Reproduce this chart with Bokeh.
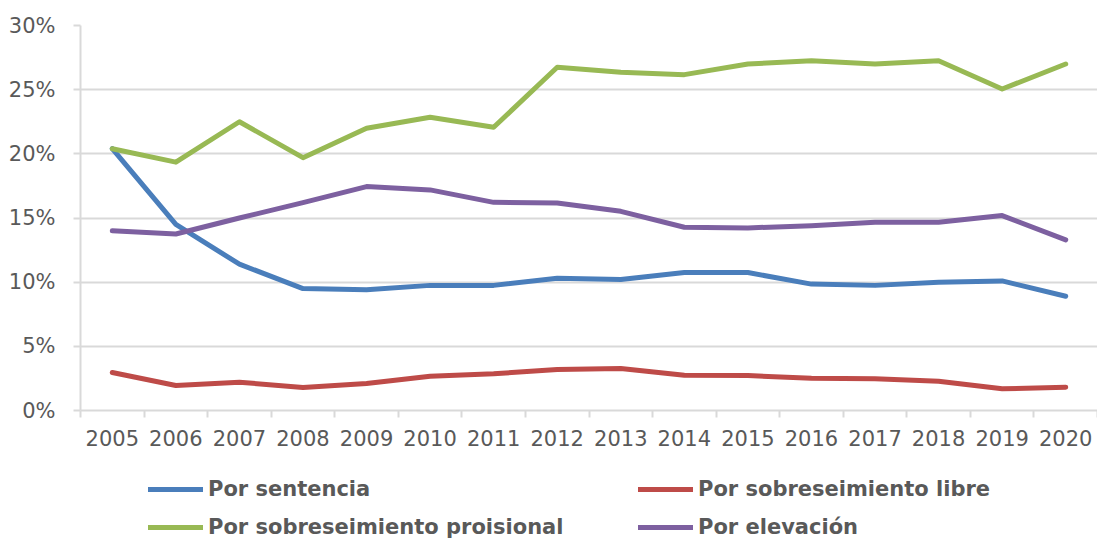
from bokeh.plotting import figure
from bokeh.layouts import column
from bokeh.models import (Range1d, FixedTicker, PrintfTickFormatter, CustomJSTickFormatter,
                          Legend, LegendItem)
from bokeh.embed import file_html
from bokeh.resources import INLINE

years = ["2005", "2006", "2007", "2008", "2009", "2010", "2011", "2012",
         "2013", "2014", "2015", "2016", "2017", "2018", "2019", "2020"]
por_sentencia = [20.4, 14.5, 11.4, 9.5, 9.4, 9.75, 9.75, 10.3, 10.2, 10.75, 10.75, 9.85, 9.75, 10.0, 10.1, 8.9]
por_sobreseimiento_libre = [2.96, 1.95, 2.2, 1.8, 2.1, 2.67, 2.86, 3.2, 3.27, 2.75, 2.72, 2.52, 2.47, 2.28, 1.69, 1.82]
por_sobreseimiento_proisional = [20.4, 19.35, 22.5, 19.7, 22.0, 22.85, 22.07, 26.75, 26.35, 26.17, 27.0, 27.26, 27.0, 27.26, 25.05, 27.0]
por_elevacion = [14.0, 13.75, 15.0, 16.2, 17.45, 17.19, 16.22, 16.17, 15.52, 14.28, 14.23, 14.4, 14.67, 14.67, 15.19, 13.3]
y_ticks = [0, 5, 10, 15, 20, 25, 30]

series = [
    ("Por sentencia", por_sentencia, "#4A7EBB"),
    ("Por sobreseimiento libre", por_sobreseimiento_libre, "#BE4B48"),
    ("Por sobreseimiento proisional", por_sobreseimiento_proisional, "#98B954"),
    ("Por elevación", por_elevacion, "#7D60A0"),
]
# legend is filled column by column: col 1 = sentencia, proisional; col 2 = libre, elevación
legend_order = [0, 2, 1, 3]

GRID = "#d9d9d9"
TXT = "#595959"
FONT = "DejaVu Sans"

n = len(years)
x_pos = [i + 0.5 for i in range(n)]          # category centres
x_bounds = list(range(n + 1))                 # category boundaries

# ---------------- main chart ----------------
p = figure(width=1097, height=454, x_range=Range1d(0, n), y_range=Range1d(y_ticks[0], y_ticks[-1]),
           output_backend="svg", toolbar_location=None,
           min_border_left=80, min_border_right=0, min_border_top=25, min_border_bottom=44)
p.outline_line_color = None
p.xgrid.visible = False
p.ygrid.grid_line_color = GRID
p.ygrid.grid_line_width = 2

p.yaxis.ticker = FixedTicker(ticks=y_ticks)
p.yaxis.formatter = PrintfTickFormatter(format="%d%%")
p.yaxis.axis_line_color = GRID
p.yaxis.axis_line_width = 2
p.yaxis.major_tick_line_color = GRID
p.yaxis.major_tick_line_width = 2
p.yaxis.major_tick_out = 7
p.yaxis.major_tick_in = 0
p.yaxis.minor_tick_line_color = None
p.yaxis.major_label_standoff = 18
p.yaxis.major_label_text_font = FONT
p.yaxis.major_label_text_font_size = "21px"
p.yaxis.major_label_text_color = TXT

p.xaxis.ticker = FixedTicker(ticks=x_pos, minor_ticks=x_bounds)
p.xaxis.formatter = CustomJSTickFormatter(args=dict(years=years),
                                          code="const i = Math.floor(tick); return (i >= 0 && i < years.length) ? years[i] : '';")
p.xaxis.axis_line_color = GRID
p.xaxis.axis_line_width = 2
p.xaxis.major_tick_line_color = None
p.xaxis.major_tick_out = 0
p.xaxis.major_tick_in = 0
p.xaxis.minor_tick_line_color = GRID
p.xaxis.minor_tick_line_width = 2
p.xaxis.minor_tick_out = 7
p.xaxis.minor_tick_in = 0
p.xaxis.major_label_standoff = 12
p.xaxis.major_label_text_font = FONT
p.xaxis.major_label_text_font_size = "21px"
p.xaxis.major_label_text_color = TXT

for name, vals, col in series:
    p.line(x=x_pos, y=vals, line_width=5, line_color=col, line_cap="round", line_join="round")

# ---------------- legend strip ----------------
lg = figure(width=1097, height=84, output_backend="svg", toolbar_location=None,
            x_axis_location=None, y_axis_location=None,
            min_border_left=0, min_border_right=0, min_border_top=0, min_border_bottom=0)
lg.outline_line_color = None
lg.grid.visible = False
items = []
for k in legend_order:
    name, vals, col = series[k]
    r = lg.line(x=x_pos, y=vals, line_width=5, line_color=col, line_cap="round", line_join="round",
                visible=False)
    items.append(LegendItem(label=name, renderers=[r]))

legend = Legend(items=items, ncols=2, location=(68, -1),
                glyph_width=55, glyph_height=24, label_height=24, label_width=416,
                label_standoff=5, spacing=14, padding=0, margin=0,
                border_line_color=None, background_fill_alpha=0,
                label_text_font=FONT, label_text_font_style="bold",
                label_text_font_size="21px", label_text_color=TXT)
lg.add_layout(legend)

layout = column(p, lg, spacing=0)
open("out.html", "w").write(file_html(layout, INLINE))
